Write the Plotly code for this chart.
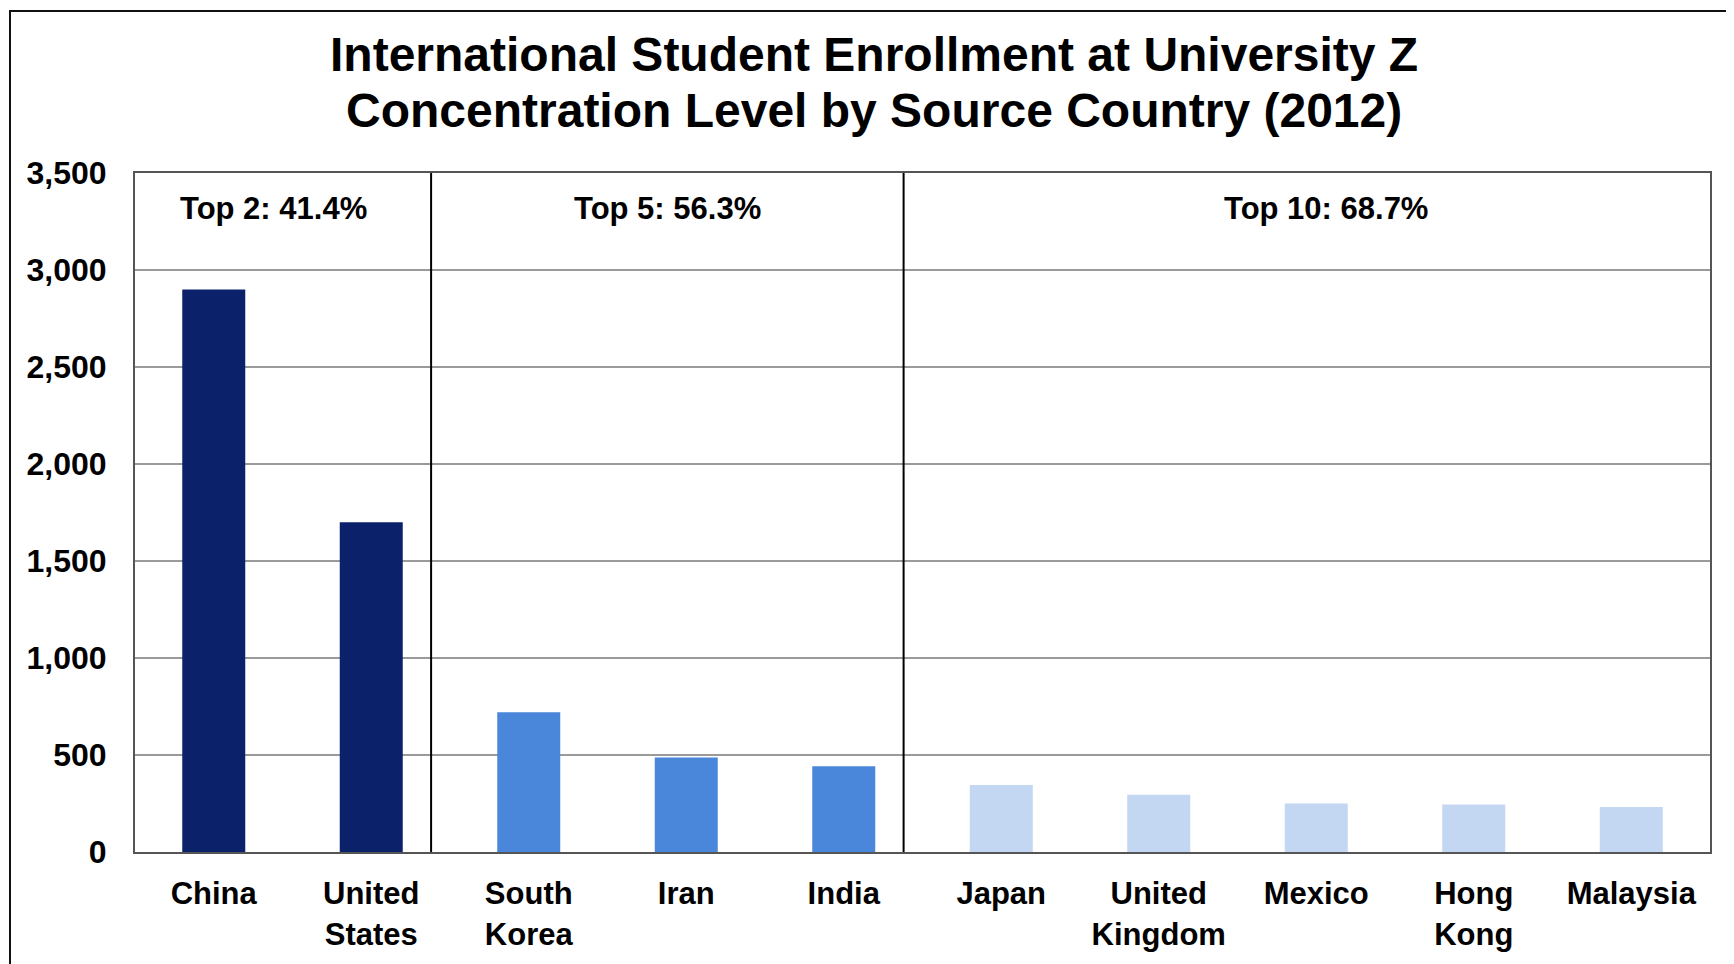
import plotly.graph_objects as go

# ---- data ----
countries = ["China", "United States", "South Korea", "Iran", "India",
             "Japan", "United Kingdom", "Mexico", "Hong Kong", "Malaysia"]
tick_labels = ["China", "United<br>States", "South<br>Korea", "Iran", "India",
               "Japan", "United<br>Kingdom", "Mexico", "Hong<br>Kong", "Malaysia"]
enrollment = [2900, 1700, 720, 487, 442, 345, 295, 250, 245, 232]
group_sizes = [2, 3, 5]
group_labels = ["Top 2: 41.4%", "Top 5: 56.3%", "Top 10: 68.7%"]
group_colors = ["#0B226A", "#4A86D9", "#C3D6F2"]
y_ticks = [0, 500, 1000, 1500, 2000, 2500, 3000, 3500]

title_lines = ["International Student Enrollment at University Z",
               "Concentration Level by Source Country (2012)"]

# ---- style ----
FONT = "Arial, Liberation Sans, Helvetica, sans-serif"
W, H = 1726, 956          # page body has an 8px margin
ML, MR, MT, MB = 127, 24, 165, 101
DIV_SHIFT = -0.12          # divider lines sit slightly left of category boundary
LABEL_X_SHIFT = [-0.06, 0.0, 0.12]   # nudges of group label centres
TITLE_X = 866              # figure px of title centre
TITLE_Y = [45, 101]        # figure px of title line centres

pw = W - ML - MR
ph = H - MT - MB

bar_colors = []
for size, col in zip(group_sizes, group_colors):
    bar_colors += [col] * size

fig = go.Figure()
fig.add_trace(go.Bar(
    x=countries, y=enrollment,
    marker=dict(color=bar_colors, line=dict(width=0)),
    width=0.4,
    showlegend=False,
    hoverinfo="x+y",
))

# group dividers & labels
shapes = []
annotations = []
n = len(countries)
ymax = y_ticks[-1]
bounds = [-0.5]
acc = 0
for size in group_sizes:
    acc += size
    bounds.append(acc - 0.5 + (DIV_SHIFT if acc < n else 0))
for i in range(1, len(bounds) - 1):
    shapes.append(dict(type="line", xref="x", yref="y",
                       x0=bounds[i], x1=bounds[i], y0=0, y1=ymax,
                       line=dict(color="black", width=2)))
label_y = ymax * 0.9475
for i, lab in enumerate(group_labels):
    annotations.append(dict(x=(bounds[i] + bounds[i + 1]) / 2 + LABEL_X_SHIFT[i], y=label_y,
                            xref="x", yref="y", text=lab, showarrow=False,
                            font=dict(family=FONT, size=31, color="black", weight="bold")))

# title lines
for line, ty in zip(title_lines, TITLE_Y):
    annotations.append(dict(x=(TITLE_X - ML) / pw, y=(H - MB - ty) / ph,
                            xref="paper", yref="paper", xanchor="center", yanchor="middle",
                            text=line, showarrow=False,
                            font=dict(family=FONT, size=48, color="black", weight="bold")))

# outer frame of the picture
fx0 = (2 - ML) / pw
fy1 = (H - MB - 0.5) / ph
shapes.append(dict(type="rect", xref="paper", yref="paper",
                   x0=fx0, x1=1.2, y0=-0.4, y1=fy1,
                   line=dict(color="#111111", width=2), layer="below"))

fig.update_layout(
    width=W, height=H,
    margin=dict(l=ML, r=MR, t=MT, b=MB),
    paper_bgcolor="white", plot_bgcolor="white",
    shapes=shapes,
    annotations=annotations,
    bargap=0.6,
    xaxis=dict(
        type="category",
        range=[-0.5, n - 0.5],
        tickvals=countries, ticktext=tick_labels,
        tickfont=dict(family=FONT, size=31, color="black", weight="bold"),
        showline=True, mirror=True, linecolor="#555555", linewidth=2,
        showgrid=False, ticks="", ticklabelstandoff=13,
    ),
    yaxis=dict(
        range=[0, ymax],
        tickvals=y_ticks, tickformat=",",
        tickfont=dict(family=FONT, size=32, color="black", weight="bold"),
        showline=True, mirror=True, linecolor="#555555", linewidth=2,
        showgrid=True, gridcolor="#9a9a9a", gridwidth=1.5,
        zeroline=False, ticks="", ticklabelstandoff=20,
    ),
)

fig.write_html("out.html")
